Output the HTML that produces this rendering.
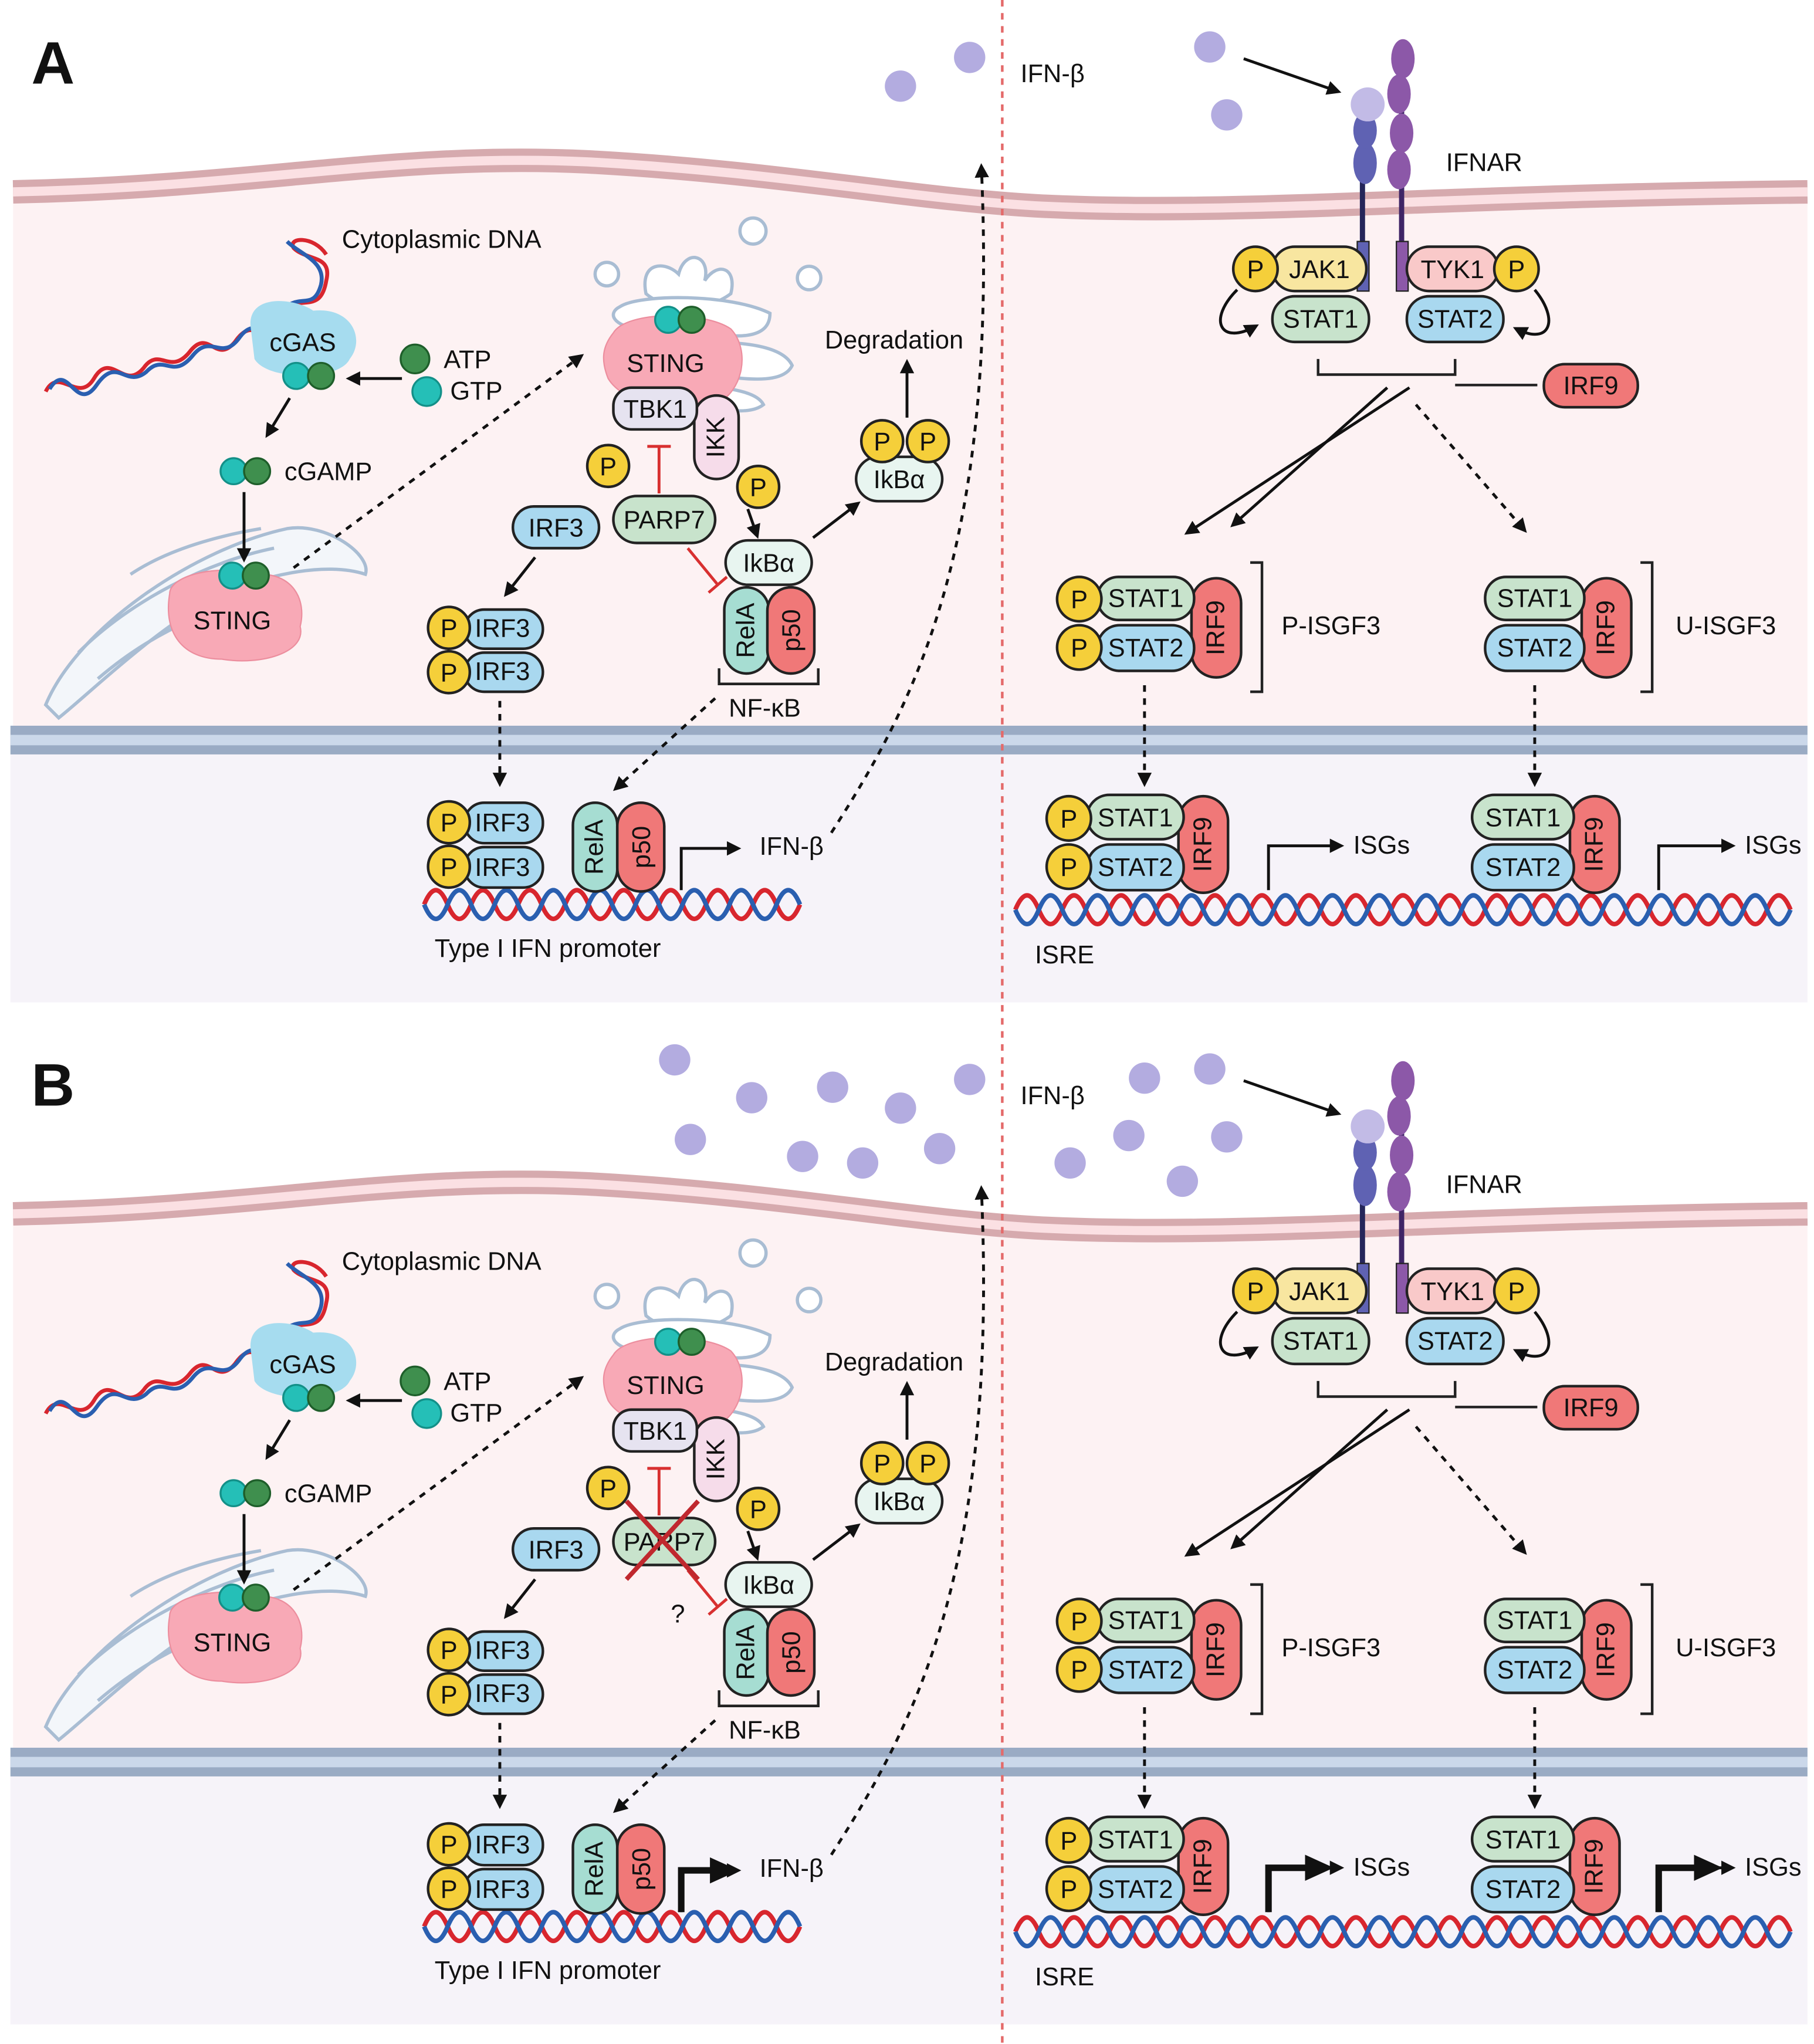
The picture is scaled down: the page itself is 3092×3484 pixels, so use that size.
<!DOCTYPE html>
<html><head><meta charset="utf-8"><style>
html,body{margin:0;padding:0;background:#fff}
svg{display:block}
text{font-family:"Liberation Sans",sans-serif;font-size:19.5px;fill:#111}
.b{stroke:#222;stroke-width:2}
.s1{fill:#c8e3cc}.s2{fill:#a9d8ef}.i9{fill:#f07878}.p{fill:#f5cf3a}
.c{text-anchor:middle}
.ar{stroke:#111;stroke-width:2.2;fill:none;marker-end:url(#ah)}
.da{stroke:#111;stroke-width:2.2;fill:none;stroke-dasharray:5,5;marker-end:url(#ah)}
.er{fill:#f3f6fa;stroke:#a9bdd3;stroke-width:2.5}
</style></head><body>
<svg width="3092" height="3484" viewBox="0 0 1390 1566" preserveAspectRatio="none" xmlns="http://www.w3.org/2000/svg">
<defs>
<marker id="ah" markerWidth="11" markerHeight="11" refX="8" refY="5.5" orient="auto" markerUnits="userSpaceOnUse"><path d="M0,0 L11,5.5 L0,11 z" fill="#111"/></marker>
<marker id="ahb" markerWidth="24" markerHeight="24" refX="12" refY="12" orient="auto" markerUnits="userSpaceOnUse"><path d="M0,2 L22,12 L0,22 z" fill="#111"/></marker>
</defs>
<rect width="1390" height="1566" fill="#fff"/>
<g id="pA">
<path d="M10,147 C200,143 300,117 450,124 C600,132 700,153 800,158 C950,165 1100,150 1385,147 L1385,560 L10,560 z" fill="#fdf2f3"/>
<path d="M10,147 C200,143 300,117 450,124 C600,132 700,153 800,158 C950,165 1100,150 1385,147" fill="none" stroke="#d6aaae" stroke-width="18"/>
<path d="M10,147 C200,143 300,117 450,124 C600,132 700,153 800,158 C950,165 1100,150 1385,147" fill="none" stroke="#fbe0e3" stroke-width="7"/>
<rect x="8" y="578" width="1377" height="190" fill="#f6f3f9"/>
<rect x="8" y="556" width="1377" height="22" fill="#9aabc4"/>
<rect x="8" y="563" width="1377" height="8" fill="#cbd8ea"/>
<text x="24" y="64" style="font-size:46px;font-weight:bold">A</text>
<!-- cytoplasmic DNA -->
<path d="M35,300 C45,280 60,310 72,290 C85,268 95,300 110,282 C122,265 130,288 145,270 C160,250 165,280 180,262 C195,240 200,268 212,245 C225,220 245,245 250,215 C255,195 235,200 225,190 C220,182 240,180 250,195" fill="none" stroke="#d8262e" stroke-width="3"/>
<path d="M38,298 C52,275 58,318 74,295 C90,272 96,298 112,285 C126,270 132,292 148,272 C162,255 170,278 184,258 C196,242 204,262 215,240 C228,222 240,240 246,218 C250,200 230,195 220,185" fill="none" stroke="#2a5fb0" stroke-width="3"/>
<path d="M192,250 C190,225 225,228 240,238 C270,235 280,260 268,275 C260,292 205,292 195,275 z" fill="#a6dcef"/>
<text x="232" y="269" class="c">cGAS</text>
<circle cx="227" cy="288" r="10" fill="#25bfb7" stroke="#139088" stroke-width="1.5"/>
<circle cx="246" cy="288" r="10" fill="#3f8f4e" stroke="#1e5e2a" stroke-width="1.5"/>
<text x="262" y="190">Cytoplasmic DNA</text>
<circle cx="318" cy="275" r="11" fill="#3f8f4e" stroke="#1e5e2a" stroke-width="1.5"/>
<circle cx="327" cy="300" r="11" fill="#25bfb7" stroke="#139088" stroke-width="1.5"/>
<text x="340" y="282">ATP</text><text x="345" y="306">GTP</text>
<path class="ar" d="M308,290 L268,290"/>
<path class="ar" d="M222,305 L205,333"/>
<circle cx="179" cy="361" r="10" fill="#25bfb7" stroke="#139088" stroke-width="1.5"/>
<circle cx="197" cy="361" r="10" fill="#3f8f4e" stroke="#1e5e2a" stroke-width="1.5"/>
<text x="218" y="368">cGAMP</text>
<!-- ER -->
<path class="er" d="M35,540 C60,480 150,420 220,405 C250,400 285,425 280,440 C250,430 200,440 160,460 C110,490 70,530 45,550 z"/>
<path class="er" d="M60,500 C100,460 160,430 210,420" style="fill:none"/>
<path class="er" d="M75,520 C110,490 150,470 180,465" style="fill:none"/>
<path class="er" d="M100,440 C130,420 170,410 200,405" style="fill:none"/>
<path d="M130,455 C130,440 170,432 195,440 C225,438 235,460 230,480 C235,500 200,510 170,505 C140,505 125,485 130,455 z" fill="#f8a9b6" stroke="#ec8e9e" stroke-width="1"/>
<path class="ar" d="M187,377 L187,428"/>
<circle cx="178" cy="441" r="10" fill="#25bfb7" stroke="#139088" stroke-width="1.5"/>
<circle cx="196" cy="441" r="10" fill="#3f8f4e" stroke="#1e5e2a" stroke-width="1.5"/>
<text x="178" y="482" class="c">STING</text>
<path class="da" d="M225,435 L445,273"/>
<!-- golgi -->
<circle cx="577" cy="177" r="10" fill="#fff" stroke="#a9bdd3" stroke-width="2.5"/>
<circle cx="620" cy="213" r="9" fill="#fff" stroke="#a9bdd3" stroke-width="2.5"/>
<circle cx="465" cy="210" r="9" fill="#fff" stroke="#a9bdd3" stroke-width="2.5"/>
<path d="M495,225 C490,200 510,200 520,210 C525,190 545,195 540,215 C550,200 565,205 560,225 C540,240 510,238 495,225 z" fill="#fff" stroke="#a9bdd3" stroke-width="2.5"/>
<path d="M475,235 C490,225 560,225 590,240 C590,262 560,258 540,255 L490,252 C470,250 465,240 475,235 z" fill="#fff" stroke="#a9bdd3" stroke-width="2.5"/>
<path d="M540,262 C570,262 600,265 607,280 C600,295 570,290 550,288 z" fill="#fff" stroke="#a9bdd3" stroke-width="2.5"/>
<path d="M540,295 C560,298 580,300 585,310 C575,318 555,314 540,312 z" fill="#fff" stroke="#a9bdd3" stroke-width="2.5"/>
<path d="M470,255 C480,238 540,238 560,252 C575,268 570,300 548,310 C520,318 478,310 466,290 C460,275 462,265 470,255 z" fill="#f8a9b6" stroke="#ec8e9e" stroke-width="1"/>
<circle cx="512" cy="245" r="10" fill="#25bfb7" stroke="#139088" stroke-width="1.5"/>
<circle cx="530" cy="245" r="10" fill="#3f8f4e" stroke="#1e5e2a" stroke-width="1.5"/>
<text x="510" y="285" class="c">STING</text>
<rect x="532" y="303" width="34" height="64" rx="17" fill="#f6dcea" class="b"/>
<text transform="translate(555,335) rotate(-90)" class="c">IKK</text>
<rect x="470" y="297" width="64" height="32" rx="14" fill="#e6e3f0" class="b"/>
<text x="502" y="320" class="c">TBK1</text>
<circle cx="466" cy="357" r="16" class="p b"/><text x="466" y="364" class="c">P</text>
<rect x="393" y="388" width="66" height="32" rx="16" class="s2 b"/><text x="426" y="411" class="c">IRF3</text>
<path d="M505,378 L505,342 M496,342 L514,342" stroke="#d83030" stroke-width="2.2" fill="none"/>
<rect x="470" y="380" width="78" height="36" rx="18" class="s1 b"/><text x="509" y="405" class="c">PARP7</text>
<path d="M527,420 L550,448 M543,454 L557,442" stroke="#d83030" stroke-width="2.2" fill="none"/>
<circle cx="581" cy="373" r="16" class="p b"/><text x="581" y="380" class="c">P</text>
<path class="ar" d="M573,390 L580,410"/>
<rect x="556" y="414" width="66" height="34" rx="17" fill="#e8f5f0" class="b"/><text x="589" y="438" class="c">IkBα</text>
<rect x="555" y="450" width="34" height="66" rx="17" fill="#a6ddd2" class="b"/>
<text transform="translate(578,483) rotate(-90)" class="c">RelA</text>
<rect x="588" y="450" width="36" height="66" rx="18" class="i9 b"/>
<text transform="translate(613,483) rotate(-90)" class="c">p50</text>
<path d="M551,512 L551,524 L627,524 L627,512" stroke="#222" stroke-width="2" fill="none"/>
<text x="586" y="549" class="c">NF-κB</text>
<path class="ar" d="M623,412 L657,386"/>
<rect x="656" y="350" width="66" height="34" rx="17" fill="#e8f5f0" class="b"/><text x="689" y="374" class="c">IkBα</text>
<circle cx="676" cy="338" r="16" class="p b"/><text x="676" y="345" class="c">P</text>
<circle cx="711" cy="338" r="16" class="p b"/><text x="711" y="345" class="c">P</text>
<path class="ar" d="M695,320 L695,278"/>
<text x="632" y="267">Degradation</text>
<path class="ar" d="M410,427 L388,455"/>
<rect x="356" y="467" width="60" height="30" rx="15" class="s2 b"/><text x="385" y="488" class="c">IRF3</text>
<rect x="356" y="500" width="60" height="30" rx="15" class="s2 b"/><text x="385" y="521" class="c">IRF3</text>
<circle cx="344" cy="481" r="16" class="p b"/><text x="344" y="488" class="c">P</text>
<circle cx="344" cy="515" r="16" class="p b"/><text x="344" y="522" class="c">P</text>
<path class="da" d="M383,537 L383,600"/>
<path class="da" d="M548,535 L472,604"/>
<!-- nucleus left -->
<path d="M325,693 q9,-22 18,0 t18,0 t18,0 t18,0 t18,0 t18,0 t18,0 t18,0 t18,0 t18,0 t18,0 t18,0 t18,0 t18,0 t18,0 t18,0" fill="none" stroke="#d8262e" stroke-width="3.5"/>
<path d="M325,693 q9,22 18,0 t18,0 t18,0 t18,0 t18,0 t18,0 t18,0 t18,0 t18,0 t18,0 t18,0 t18,0 t18,0 t18,0 t18,0 t18,0" fill="none" stroke="#2a5fb0" stroke-width="3.5"/>
<rect x="356" y="615" width="60" height="31" rx="15" class="s2 b"/><text x="385" y="637" class="c">IRF3</text>
<rect x="356" y="649" width="60" height="31" rx="15" class="s2 b"/><text x="385" y="671" class="c">IRF3</text>
<circle cx="344" cy="630" r="16" class="p b"/><text x="344" y="637" class="c">P</text>
<circle cx="344" cy="664" r="16" class="p b"/><text x="344" y="671" class="c">P</text>
<rect x="439" y="615" width="34" height="68" rx="17" fill="#a6ddd2" class="b"/>
<text transform="translate(462,649) rotate(-90)" class="c">RelA</text>
<rect x="473" y="615" width="36" height="68" rx="18" class="i9 b"/>
<text transform="translate(498,649) rotate(-90)" class="c">p50</text>
<path class="ar" d="M522,682 L522,650 L565,650"/>
<text x="582" y="655">IFN-β</text>
<path class="da" d="M637,638 C700,540 765,420 752,128"/>
<text x="333" y="733">Type I IFN promoter</text>
<!-- IFN -->
<circle cx="690" cy="66" r="12" fill="#b3ace0"/>
<circle cx="743" cy="44" r="12" fill="#b3ace0"/>
<circle cx="927" cy="36" r="12" fill="#b3ace0"/>
<circle cx="940" cy="88" r="12" fill="#b3ace0"/>
<text x="782" y="63">IFN-β</text>
<path class="ar" d="M953,45 L1025,70"/>
<!-- IFNAR -->
<line x1="1044" y1="100" x2="1044" y2="220" stroke="#25265a" stroke-width="4"/>
<line x1="1074" y1="60" x2="1074" y2="220" stroke="#3f2566" stroke-width="4"/>
<ellipse cx="1046" cy="125" rx="9" ry="16" fill="#5f62b3"/>
<ellipse cx="1046" cy="100" rx="9" ry="14" fill="#5f62b3"/>
<ellipse cx="1075" cy="45" rx="9" ry="15" fill="#8c58a8"/>
<ellipse cx="1072" cy="72" rx="9" ry="15" fill="#8c58a8"/>
<ellipse cx="1074" cy="102" rx="9" ry="15" fill="#8c58a8"/>
<ellipse cx="1072" cy="130" rx="9" ry="15" fill="#8c58a8"/>
<circle cx="1048" cy="80" r="13" fill="#c2bbe6"/>
<rect x="1040" y="185" width="9" height="38" fill="#5f62b3" stroke="#222" stroke-width="1"/>
<rect x="1070" y="185" width="9" height="38" fill="#8c58a8" stroke="#222" stroke-width="1"/>
<text x="1108" y="131">IFNAR</text>
<rect x="975" y="189" width="72" height="34" rx="17" fill="#f8e6a0" class="b"/><text x="1011" y="213" class="c">JAK1</text>
<circle cx="962" cy="206" r="17" class="p b"/><text x="962" y="213" class="c">P</text>
<rect x="975" y="227" width="74" height="35" rx="17" class="s1 b"/><text x="1012" y="251" class="c">STAT1</text>
<rect x="1078" y="189" width="70" height="34" rx="17" fill="#f9c9c9" class="b"/><text x="1113" y="213" class="c">TYK1</text>
<circle cx="1162" cy="206" r="17" class="p b"/><text x="1162" y="213" class="c">P</text>
<rect x="1078" y="227" width="74" height="35" rx="17" class="s2 b"/><text x="1115" y="251" class="c">STAT2</text>
<path class="ar" d="M948,222 C925,245 935,265 962,250"/>
<path class="ar" d="M1176,222 C1195,245 1188,265 1162,252"/>
<path d="M1010,275 L1010,287 L1115,287 L1115,275" stroke="#222" stroke-width="2" fill="none"/>
<path d="M1115,295 L1178,295" stroke="#222" stroke-width="2"/>
<rect x="1183" y="279" width="72" height="33" rx="16" class="i9 b"/><text x="1219" y="302" class="c">IRF9</text>
<path class="ar" d="M1080,297 L910,408"/>
<path class="ar" d="M1063,297 L945,402"/>
<path class="da" d="M1085,310 L1168,406"/>
<!-- P-ISGF3 -->
<rect x="913" y="443" width="38" height="76" rx="19" class="i9 b"/>
<text transform="translate(938,481) rotate(-90)" class="c">IRF9</text>
<rect x="841" y="442" width="74" height="33" rx="16" class="s1 b"/><text x="878" y="465" class="c">STAT1</text>
<rect x="841" y="479" width="74" height="35" rx="17" class="s2 b"/><text x="878" y="503" class="c">STAT2</text>
<circle cx="827" cy="459" r="17" class="p b"/><text x="827" y="466" class="c">P</text>
<circle cx="827" cy="496" r="17" class="p b"/><text x="827" y="503" class="c">P</text>
<path d="M958,431 L967,431 L967,530 L958,530" stroke="#222" stroke-width="2" fill="none"/>
<text x="982" y="486">P-ISGF3</text>
<rect x="1212" y="443" width="38" height="76" rx="19" class="i9 b"/>
<text transform="translate(1237,481) rotate(-90)" class="c">IRF9</text>
<rect x="1138" y="442" width="76" height="33" rx="16" class="s1 b"/><text x="1176" y="465" class="c">STAT1</text>
<rect x="1138" y="479" width="76" height="35" rx="17" class="s2 b"/><text x="1176" y="503" class="c">STAT2</text>
<path d="M1257,431 L1266,431 L1266,530 L1257,530" stroke="#222" stroke-width="2" fill="none"/>
<text x="1284" y="486">U-ISGF3</text>
<path class="da" d="M877,525 L877,600"/>
<path class="da" d="M1176,525 L1176,600"/>
<!-- nucleus right -->
<path d="M778,697 q9,-22 18,0 t18,0 t18,0 t18,0 t18,0 t18,0 t18,0 t18,0 t18,0 t18,0 t18,0 t18,0 t18,0 t18,0 t18,0 t18,0 t18,0 t18,0 t18,0 t18,0 t18,0 t18,0 t18,0 t18,0 t18,0 t18,0 t18,0 t18,0 t18,0 t18,0 t18,0 t18,0 t18,0" fill="none" stroke="#d8262e" stroke-width="3.5"/>
<path d="M778,697 q9,22 18,0 t18,0 t18,0 t18,0 t18,0 t18,0 t18,0 t18,0 t18,0 t18,0 t18,0 t18,0 t18,0 t18,0 t18,0 t18,0 t18,0 t18,0 t18,0 t18,0 t18,0 t18,0 t18,0 t18,0 t18,0 t18,0 t18,0 t18,0 t18,0 t18,0 t18,0 t18,0 t18,0" fill="none" stroke="#2a5fb0" stroke-width="3.5"/>
<rect x="903" y="610" width="38" height="74" rx="19" class="i9 b"/>
<text transform="translate(928,647) rotate(-90)" class="c">IRF9</text>
<rect x="833" y="609" width="74" height="34" rx="17" class="s1 b"/><text x="870" y="633" class="c">STAT1</text>
<rect x="833" y="647" width="74" height="35" rx="17" class="s2 b"/><text x="870" y="671" class="c">STAT2</text>
<circle cx="819" cy="627" r="17" class="p b"/><text x="819" y="634" class="c">P</text>
<circle cx="819" cy="664" r="17" class="p b"/><text x="819" y="671" class="c">P</text>
<rect x="1203" y="610" width="38" height="74" rx="19" class="i9 b"/>
<text transform="translate(1228,647) rotate(-90)" class="c">IRF9</text>
<rect x="1128" y="609" width="78" height="34" rx="17" class="s1 b"/><text x="1167" y="633" class="c">STAT1</text>
<rect x="1128" y="647" width="78" height="35" rx="17" class="s2 b"/><text x="1167" y="671" class="c">STAT2</text>
<path class="ar" d="M972,682 L972,648 L1027,648"/>
<text x="1037" y="654">ISGs</text>
<path class="ar" d="M1271,682 L1271,648 L1327,648"/>
<text x="1337" y="654">ISGs</text>
<text x="793" y="738">ISRE</text>
</g>
<use href="#pA" transform="translate(0,783)"/>
<rect x="20" y="800" width="50" height="50" fill="#fff"/>
<text x="24" y="847" style="font-size:46px;font-weight:bold">B</text>
<g fill="#b3ace0">
<circle cx="517" cy="812" r="12"/><circle cx="576" cy="841" r="12"/><circle cx="638" cy="833" r="12"/>
<circle cx="529" cy="873" r="12"/><circle cx="615" cy="886" r="12"/><circle cx="661" cy="891" r="12"/><circle cx="720" cy="880" r="12"/>
<circle cx="877" cy="826" r="12"/><circle cx="820" cy="891" r="12"/><circle cx="865" cy="870" r="12"/><circle cx="906" cy="905" r="12"/>
</g>
<path d="M480,1150 L535,1210 M535,1150 L480,1210" stroke="#c0282e" stroke-width="3.5"/>
<text x="514" y="1243">?</text>
<path d="M522,1465 L522,1433 L556,1433" stroke="#111" stroke-width="5" fill="none" marker-end="url(#ahb)"/>
<path d="M972,1465 L972,1431 L1012,1431" stroke="#111" stroke-width="5" fill="none" marker-end="url(#ahb)"/>
<path d="M1271,1465 L1271,1431 L1310,1431" stroke="#111" stroke-width="5" fill="none" marker-end="url(#ahb)"/>
<line x1="768" y1="0" x2="768" y2="1566" stroke="#e46a6a" stroke-width="2" stroke-dasharray="5,5"/>
</svg>
</body></html>
